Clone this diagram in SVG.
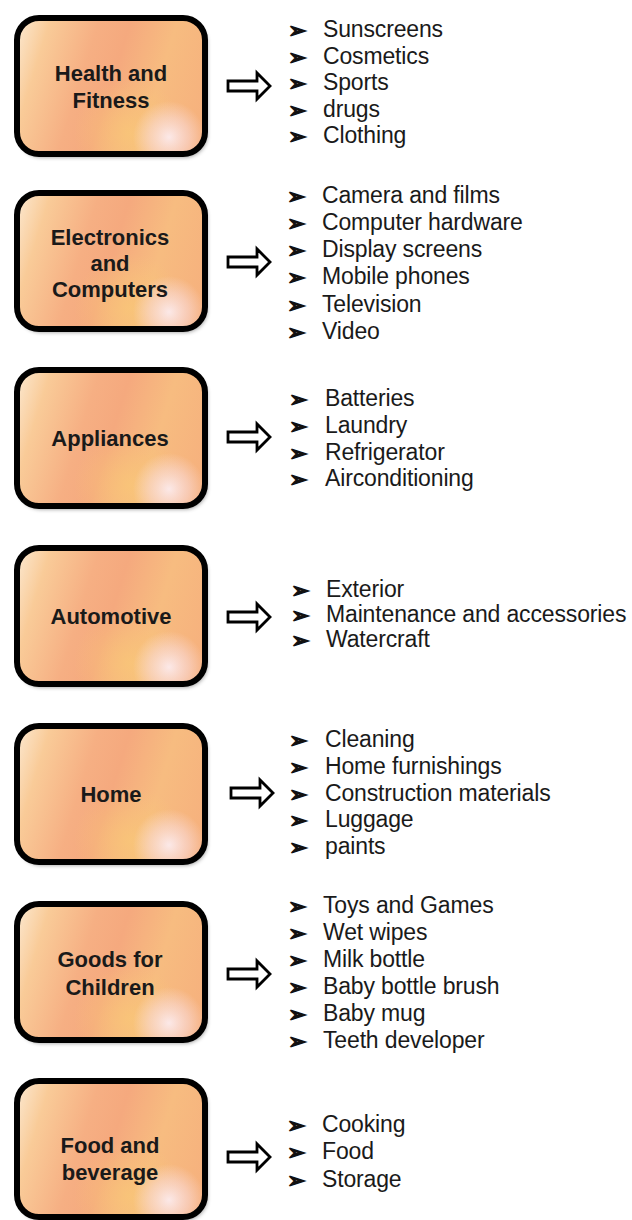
<svg xmlns="http://www.w3.org/2000/svg" xmlns:xlink="http://www.w3.org/1999/xlink" width="632" height="1220" viewBox="0 0 632 1220">
  <style>
    .label { font-family: "Liberation Sans", Arial, sans-serif; font-weight: bold; font-size: 22px; fill: #1a1a1a; text-anchor: middle; }
    .item { font-family: "Liberation Sans", Arial, sans-serif; font-size: 23px; fill: #1a1a1a; letter-spacing: -0.15px; }
    .bullet { font-family: "DejaVu Sans", sans-serif; font-size: 22px; fill: #111111; stroke: #111111; stroke-width: 1.4; stroke-linejoin: miter; }
    .arrow { fill: #ffffff; stroke: #000000; stroke-width: 2.8; stroke-linejoin: miter; }
  </style>
  <defs>
    <linearGradient id="peach" gradientUnits="userSpaceOnUse" x1="0" y1="40" x2="194" y2="100">
      <stop offset="0" stop-color="#FBE2C4"/>
      <stop offset="0.12" stop-color="#F9CB98"/>
      <stop offset="0.35" stop-color="#F6AF83"/>
      <stop offset="0.5" stop-color="#F5A97E"/>
      <stop offset="0.72" stop-color="#F7BC80"/>
      <stop offset="1" stop-color="#F6B07D"/>
    </linearGradient>
    <radialGradient id="warm" gradientUnits="userSpaceOnUse" cx="115" cy="118" r="55">
      <stop offset="0" stop-color="#F9C877" stop-opacity="0.75"/>
      <stop offset="1" stop-color="#F9C877" stop-opacity="0"/>
    </radialGradient>
    <radialGradient id="glow" gradientUnits="userSpaceOnUse" cx="155" cy="122" r="36">
      <stop offset="0" stop-color="#FCEEF4" stop-opacity="0.9"/>
      <stop offset="0.55" stop-color="#FAE0E6" stop-opacity="0.5"/>
      <stop offset="1" stop-color="#FAE0E6" stop-opacity="0"/>
    </radialGradient>
    <filter id="shadow" x="-10%" y="-10%" width="125%" height="130%">
      <feDropShadow dx="2" dy="3" stdDeviation="2" flood-color="#000000" flood-opacity="0.45"/>
    </filter>
    <clipPath id="inner">
      <rect x="3" y="3" width="188" height="136" rx="22"/>
    </clipPath>
    <!-- rounded category box, local origin at its outer top-left corner -->
    <g id="box">
      <rect x="3" y="3" width="188" height="136" rx="22" fill="#000" filter="url(#shadow)"/>
      <g clip-path="url(#inner)">
        <rect x="0" y="0" width="194" height="142" fill="url(#peach)"/>
        <rect x="0" y="0" width="194" height="142" fill="url(#warm)"/>
        <rect x="0" y="0" width="194" height="142" fill="url(#glow)"/>
      </g>
      <rect x="3" y="3" width="188" height="136" rx="22" fill="none" stroke="#000" stroke-width="6"/>
    </g>
    <!-- hollow block arrow, centred vertically on y=0 -->
    <path id="blockArrow" class="arrow" d="M228,-5 H257 V-13 L270,0 L257,13 V5 H228 Z"/>
  </defs>

  <g id="connectors">
    <use xlink:href="#blockArrow" transform="translate(0,86)"/>
    <use xlink:href="#blockArrow" transform="translate(0,262)"/>
    <use xlink:href="#blockArrow" transform="translate(0,437)"/>
    <use xlink:href="#blockArrow" transform="translate(0,617)"/>
    <use xlink:href="#blockArrow" transform="translate(3,793)"/>
    <use xlink:href="#blockArrow" transform="translate(0,974)"/>
    <use xlink:href="#blockArrow" transform="translate(0,1157)"/>
  </g>

  <g id="health-fitness">
    <use xlink:href="#box" transform="translate(14,15)"/>
    <text class="label" x="111" y="81">Health and</text>
    <text class="label" x="111" y="108">Fitness</text>
    <g id="health-fitness-items">
      <text class="bullet"><tspan x="288" y="38">➢</tspan><tspan x="288" y="64.5">➢</tspan><tspan x="288" y="91">➢</tspan><tspan x="288" y="117.5">➢</tspan><tspan x="288" y="144">➢</tspan></text>
      <text class="item"><tspan x="323" y="37">Sunscreens</tspan><tspan x="323" y="63.5">Cosmetics</tspan><tspan x="323" y="90">Sports</tspan><tspan x="323" y="116.5">drugs</tspan><tspan x="323" y="143">Clothing</tspan></text>
    </g>
  </g>

  <g id="electronics-computers">
    <use xlink:href="#box" transform="translate(14,190)"/>
    <text class="label" x="110" y="245">Electronics</text>
    <text class="label" x="110" y="271">and</text>
    <text class="label" x="110" y="297">Computers</text>
    <g id="electronics-computers-items">
      <text class="bullet"><tspan x="287" y="204">➢</tspan><tspan x="287" y="231">➢</tspan><tspan x="287" y="258">➢</tspan><tspan x="287" y="285">➢</tspan><tspan x="287" y="312.5">➢</tspan><tspan x="287" y="340">➢</tspan></text>
      <text class="item"><tspan x="322" y="203">Camera and films</tspan><tspan x="322" y="230">Computer hardware</tspan><tspan x="322" y="257">Display screens</tspan><tspan x="322" y="284">Mobile phones</tspan><tspan x="322" y="311.5">Television</tspan><tspan x="322" y="339">Video</tspan></text>
    </g>
  </g>

  <g id="appliances">
    <use xlink:href="#box" transform="translate(14,367)"/>
    <text class="label" x="110" y="446">Appliances</text>
    <g id="appliances-items">
      <text class="bullet"><tspan x="289" y="407">➢</tspan><tspan x="289" y="434">➢</tspan><tspan x="289" y="460.5">➢</tspan><tspan x="289" y="487">➢</tspan></text>
      <text class="item"><tspan x="325" y="406">Batteries</tspan><tspan x="325" y="433">Laundry</tspan><tspan x="325" y="459.5">Refrigerator</tspan><tspan x="325" y="486">Airconditioning</tspan></text>
    </g>
  </g>

  <g id="automotive">
    <use xlink:href="#box" transform="translate(14,545)"/>
    <text class="label" x="111" y="624">Automotive</text>
    <g id="automotive-items">
      <text class="bullet"><tspan x="291" y="598">➢</tspan><tspan x="291" y="623">➢</tspan><tspan x="291" y="648">➢</tspan></text>
      <text class="item"><tspan x="326" y="597">Exterior</tspan><tspan x="326" y="622">Maintenance and accessories</tspan><tspan x="326" y="647">Watercraft</tspan></text>
    </g>
  </g>

  <g id="home">
    <use xlink:href="#box" transform="translate(14,723)"/>
    <text class="label" x="111" y="802">Home</text>
    <g id="home-items">
      <text class="bullet"><tspan x="289" y="748">➢</tspan><tspan x="289" y="775">➢</tspan><tspan x="289" y="801.5">➢</tspan><tspan x="289" y="828">➢</tspan><tspan x="289" y="854.5">➢</tspan></text>
      <text class="item"><tspan x="325" y="747">Cleaning</tspan><tspan x="325" y="774">Home furnishings</tspan><tspan x="325" y="800.5">Construction materials</tspan><tspan x="325" y="827">Luggage</tspan><tspan x="325" y="853.5">paints</tspan></text>
    </g>
  </g>

  <g id="goods-for-children">
    <use xlink:href="#box" transform="translate(14,901)"/>
    <text class="label" x="110" y="967">Goods for</text>
    <text class="label" x="110" y="995">Children</text>
    <g id="goods-for-children-items">
      <text class="bullet"><tspan x="288" y="914">➢</tspan><tspan x="288" y="941">➢</tspan><tspan x="288" y="968">➢</tspan><tspan x="288" y="994.5">➢</tspan><tspan x="288" y="1021.5">➢</tspan><tspan x="288" y="1049">➢</tspan></text>
      <text class="item"><tspan x="323" y="913">Toys and Games</tspan><tspan x="323" y="940">Wet wipes</tspan><tspan x="323" y="967">Milk bottle</tspan><tspan x="323" y="993.5">Baby bottle brush</tspan><tspan x="323" y="1020.5">Baby mug</tspan><tspan x="323" y="1048">Teeth developer</tspan></text>
    </g>
  </g>

  <g id="food-beverage">
    <use xlink:href="#box" transform="translate(14,1078)"/>
    <text class="label" x="110" y="1153">Food and</text>
    <text class="label" x="110" y="1180">beverage</text>
    <g id="food-beverage-items">
      <text class="bullet"><tspan x="287" y="1133">➢</tspan><tspan x="287" y="1160">➢</tspan><tspan x="287" y="1187.5">➢</tspan></text>
      <text class="item"><tspan x="322" y="1132">Cooking</tspan><tspan x="322" y="1159">Food</tspan><tspan x="322" y="1186.5">Storage</tspan></text>
    </g>
  </g>
</svg>
